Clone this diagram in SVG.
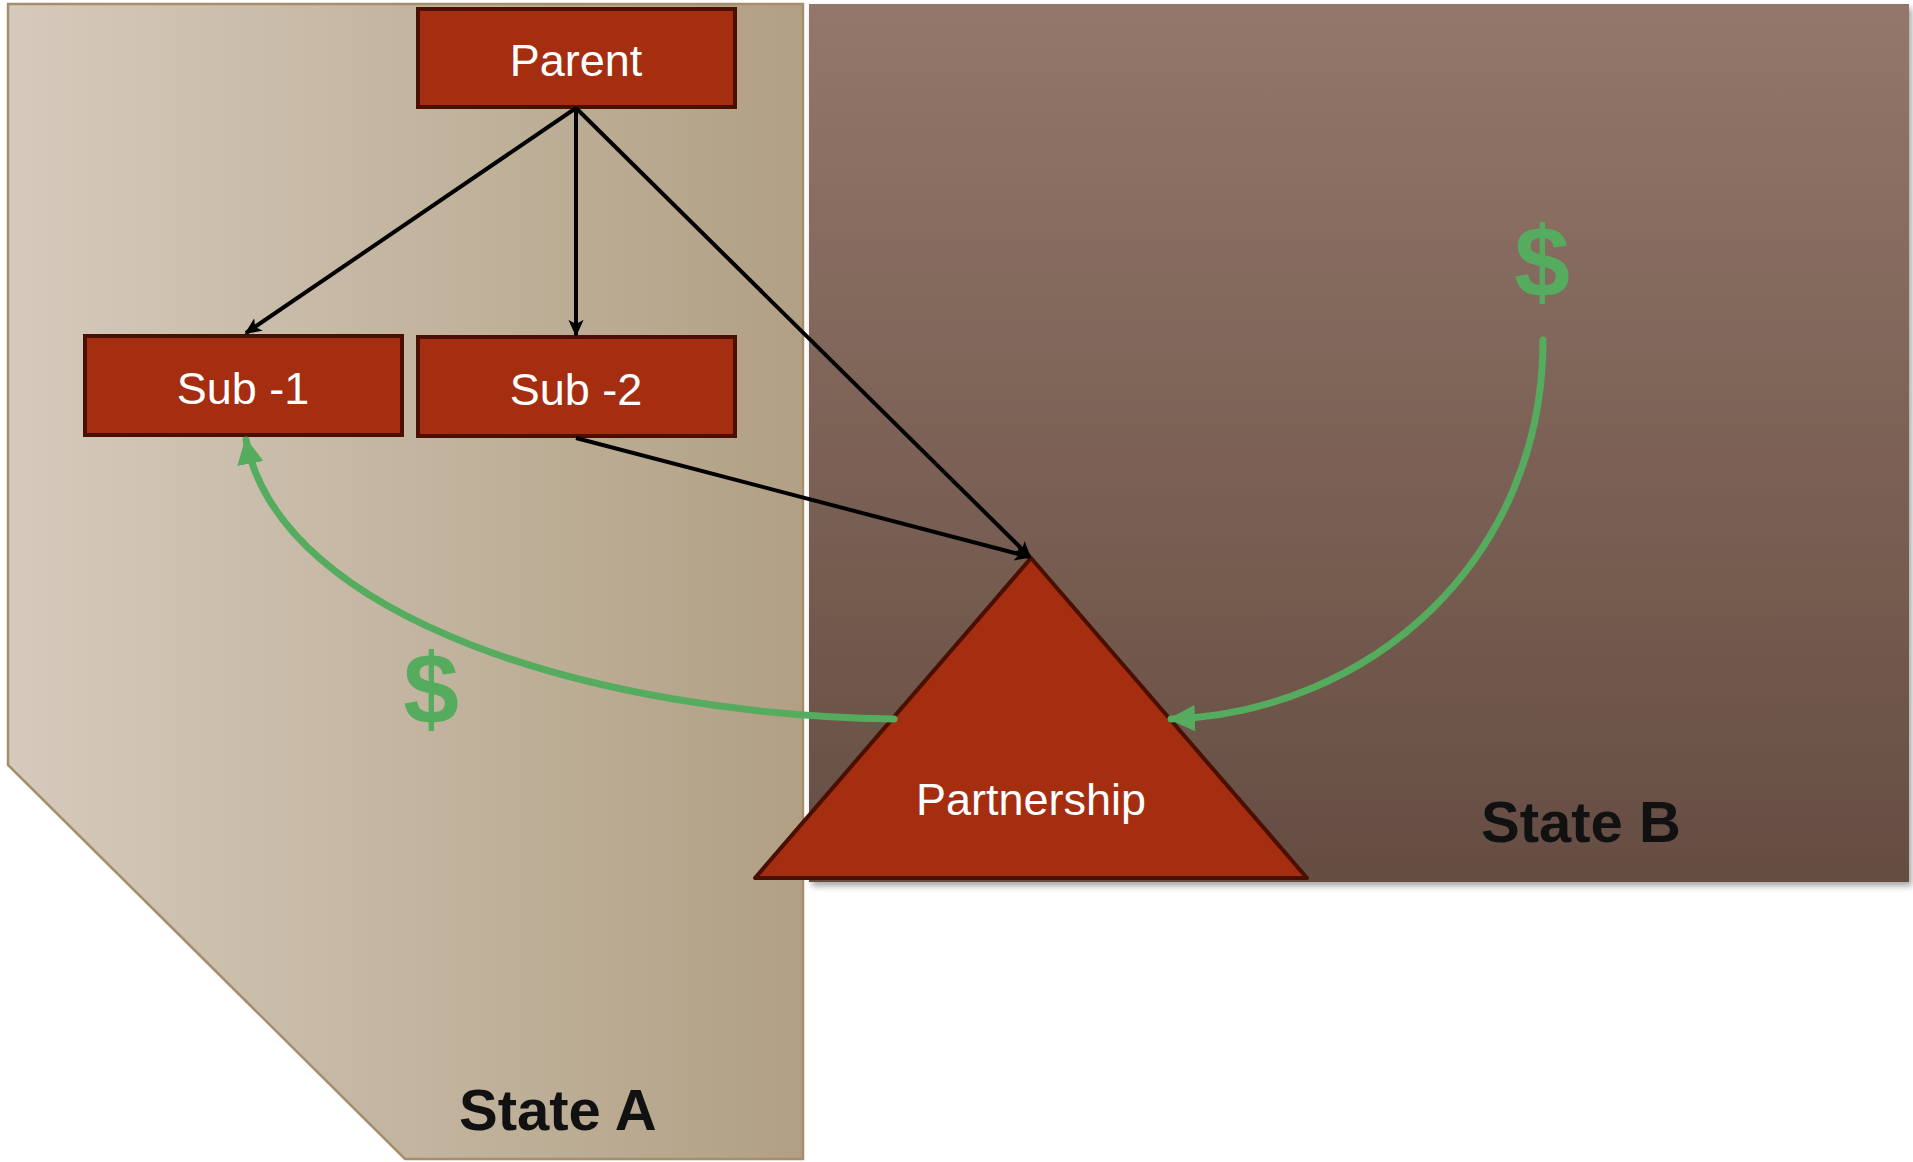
<svg xmlns="http://www.w3.org/2000/svg" width="1913" height="1162" viewBox="0 0 1913 1162">
  <defs>
    <linearGradient id="gradA" x1="0" y1="0" x2="1" y2="0">
      <stop offset="0" stop-color="#d5cabc"/>
      <stop offset="1" stop-color="#b1a084"/>
    </linearGradient>
    <linearGradient id="gradB" x1="0" y1="0" x2="0" y2="1">
      <stop offset="0" stop-color="#93776a"/>
      <stop offset="1" stop-color="#654d42"/>
    </linearGradient>
    <filter id="shadow" x="-5%" y="-5%" width="112%" height="112%">
      <feDropShadow dx="3" dy="4" stdDeviation="3" flood-color="#000" flood-opacity="0.35"/>
    </filter>
    <marker id="arrowBlack" viewBox="0 0 10 10" refX="9" refY="5" markerWidth="4.2" markerHeight="4.2" orient="auto" markerUnits="strokeWidth">
      <path d="M0,0.5 L10,5 L0,9.5 L2.5,5 Z" fill="#000"/>
    </marker>
    <marker id="arrowGreen" viewBox="0 0 10 10" refX="9" refY="5" markerWidth="3.8" markerHeight="3.8" orient="auto" markerUnits="strokeWidth">
      <path d="M0,0 L10,5 L0,10 Z" fill="#56ac5e"/>
    </marker>
    <style>
      .box { fill: #a52d10; stroke: #4a0f00; stroke-width: 4; }
      .label { font-family: "Liberation Sans", Arial, sans-serif; font-size: 45px; fill: #ffffff; text-anchor: middle; }
      .state { font-family: "Liberation Sans", Arial, sans-serif; font-size: 58px; font-weight: bold; fill: #111111; }
      .dollar { font-family: "Liberation Sans", Arial, sans-serif; font-size: 100px; font-weight: bold; fill: #56ac5e; text-anchor: middle; }
      .link { fill: none; stroke: #000; stroke-width: 4; marker-end: url(#arrowBlack); }
      .flow { fill: none; stroke: #56ac5e; stroke-width: 7; stroke-linecap: round; marker-end: url(#arrowGreen); }
    </style>
  </defs>

  <!-- jurisdiction areas -->
  <g id="state-a">
    <polygon points="8,4 803,4 803,1159 405,1159 8,765" fill="url(#gradA)" stroke="#a68e6c" stroke-width="2.5"/>
    <text class="state" x="459" y="1130">State A</text>
  </g>
  <g id="state-b">
    <rect x="809" y="4" width="1100" height="878" fill="url(#gradB)" filter="url(#shadow)"/>
    <text class="state" x="1481" y="842">State B</text>
  </g>

  <!-- entities -->
  <g id="parent">
    <rect class="box" x="418" y="9" width="317" height="98"/>
    <text class="label" x="576" y="76">Parent</text>
  </g>
  <g id="sub-1">
    <rect class="box" x="85" y="336" width="317" height="99"/>
    <text class="label" x="243" y="404">Sub -1</text>
  </g>
  <g id="sub-2">
    <rect class="box" x="418" y="337" width="317" height="99"/>
    <text class="label" x="576" y="405">Sub -2</text>
  </g>
  <g id="partnership">
    <polygon class="box" points="1031,558 1307,878 755,878" stroke-linejoin="round"/>
    <text class="label" x="1031" y="815">Partnership</text>
  </g>

  <!-- money amounts -->
  <g id="dollar-a">
    <text class="dollar" x="431" y="724">$</text>
  </g>
  <g id="dollar-b">
    <text class="dollar" x="1542" y="297">$</text>
  </g>

  <!-- ownership and payment flows -->
  <g id="connectors">
    <line class="link" x1="576" y1="108" x2="246" y2="333"/>
    <line class="link" x1="576" y1="108" x2="576" y2="335"/>
    <line class="link" x1="576" y1="108" x2="1030" y2="557"/>
    <line class="link" x1="576" y1="438" x2="1030" y2="557"/>
    <path class="flow" d="M894,719 C600,715 280,620 246,440"/>
    <path class="flow" d="M1543,340 C1543,560 1370,712 1171,719"/>
  </g>
</svg>
